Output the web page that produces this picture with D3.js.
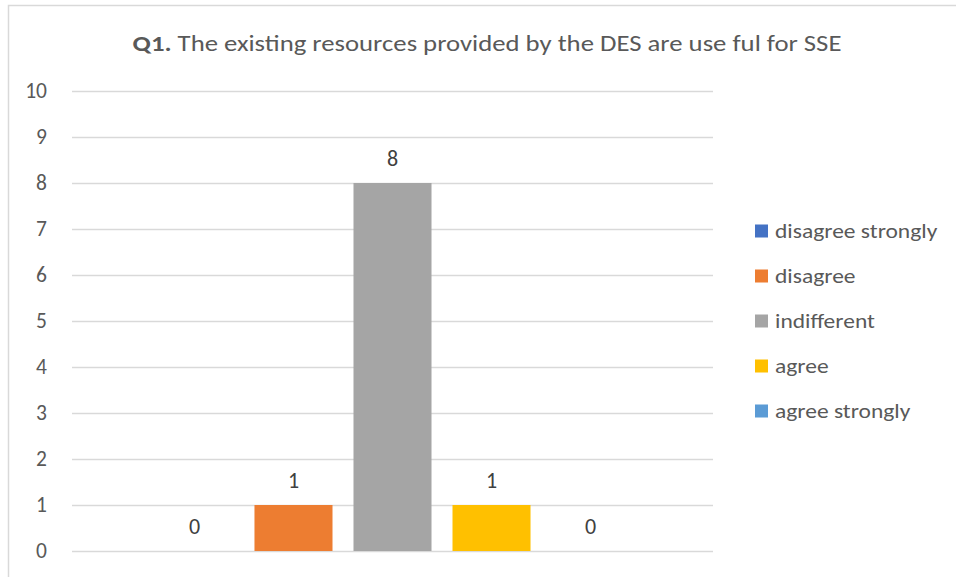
<!DOCTYPE html>
<html>
<head>
<meta charset="utf-8">
<script src="https://cdn.jsdelivr.net/npm/d3@7"></script>
<style>
  html, body { margin: 0; padding: 0; background: #fff; }
  svg { display: block; font-family: Carlito, Calibri, Lato, "Open Sans", sans-serif; }
</style>
</head>
<body>
<svg id="chart" width="956" height="577"></svg>
<script>
// Survey responses for Q1, one series per answer
const seriesNames = ["disagree strongly", "disagree", "indifferent", "agree", "agree strongly"];
const seriesValues = [0, 1, 8, 1, 0];
const seriesColors = ["#4472C4", "#ED7D31", "#A5A5A5", "#FFC000", "#5B9BD5"];
const yTicks = [0, 1, 2, 3, 4, 5, 6, 7, 8, 9, 10];
const titleBold = "Q1.";
const titleRest = " The existing resources provided by the DES are use ful for SSE";

const svg = d3.select("#chart");
const W = 956, H = 577;
const plot = { left: 72, right: 713, top: 91, bottom: 551 };
const FONT = "Carlito, Calibri, Lato, 'Open Sans', sans-serif";

// chart frame
svg.append("rect")
  .attr("x", 8.5).attr("y", 5.5)
  .attr("width", W + 20).attr("height", H + 20)
  .attr("fill", "#fff").attr("stroke", "#d9d9d9").attr("stroke-width", 1.5);

// title (slightly widened lettering)
const title = svg.append("text")
  .attr("transform", "translate(487,51) scale(1.215,1)")
  .attr("text-anchor", "middle")
  .attr("font-size", 22)
  .attr("fill", "#595959");
title.append("tspan").attr("font-weight", "bold").text(titleBold);
title.append("tspan").text(titleRest);

const y = d3.scaleLinear().domain([0, 10]).range([plot.bottom, plot.top]);
const x = d3.scaleBand()
  .domain(seriesNames)
  .range([plot.left, plot.right])
  .paddingInner(0.212)
  .paddingOuter(0.843);

// gridlines
svg.append("g")
  .selectAll("line")
  .data(yTicks)
  .join("line")
  .attr("x1", plot.left).attr("x2", plot.right)
  .attr("y1", d => Math.round(y(d)) + 0.5).attr("y2", d => Math.round(y(d)) + 0.5)
  .attr("stroke", "#d9d9d9").attr("stroke-width", 1.5);

// y axis labels
const yAxis = svg.append("g")
  .attr("transform", `translate(${plot.left},0)`)
  .call(d3.axisLeft(y).tickValues(yTicks).tickSize(0).tickPadding(25));
yAxis.select(".domain").remove();
yAxis.selectAll("text")
  .attr("font-family", FONT)
  .attr("font-size", 21.5)
  .attr("fill", "#595959");

// bars
const data = seriesNames.map((n, i) => ({ name: n, value: seriesValues[i], color: seriesColors[i] }));
svg.append("g")
  .selectAll("rect")
  .data(data)
  .join("rect")
  .attr("x", d => x(d.name))
  .attr("width", x.bandwidth())
  .attr("y", d => y(d.value))
  .attr("height", d => y(0) - y(d.value))
  .attr("fill", d => d.color);

// value labels
svg.append("g")
  .selectAll("text")
  .data(data)
  .join("text")
  .attr("x", d => x(d.name) + x.bandwidth() / 2)
  .attr("y", d => y(d.value) - 17)
  .attr("text-anchor", "middle")
  .attr("font-size", 22)
  .attr("fill", "#404040")
  .text(d => d.value);

// legend
const legend = svg.append("g")
  .selectAll("g")
  .data(data)
  .join("g")
  .attr("transform", (d, i) => `translate(755, ${231 + i * 45})`);
legend.append("rect")
  .attr("x", 0).attr("y", -6.5)
  .attr("width", 13).attr("height", 13)
  .attr("fill", d => d.color);
legend.append("text")
  .attr("transform", "translate(20,7) scale(1.12,1)")
  .attr("font-size", 21)
  .attr("fill", "#595959")
  .text(d => d.name);
</script>
</body>
</html>
